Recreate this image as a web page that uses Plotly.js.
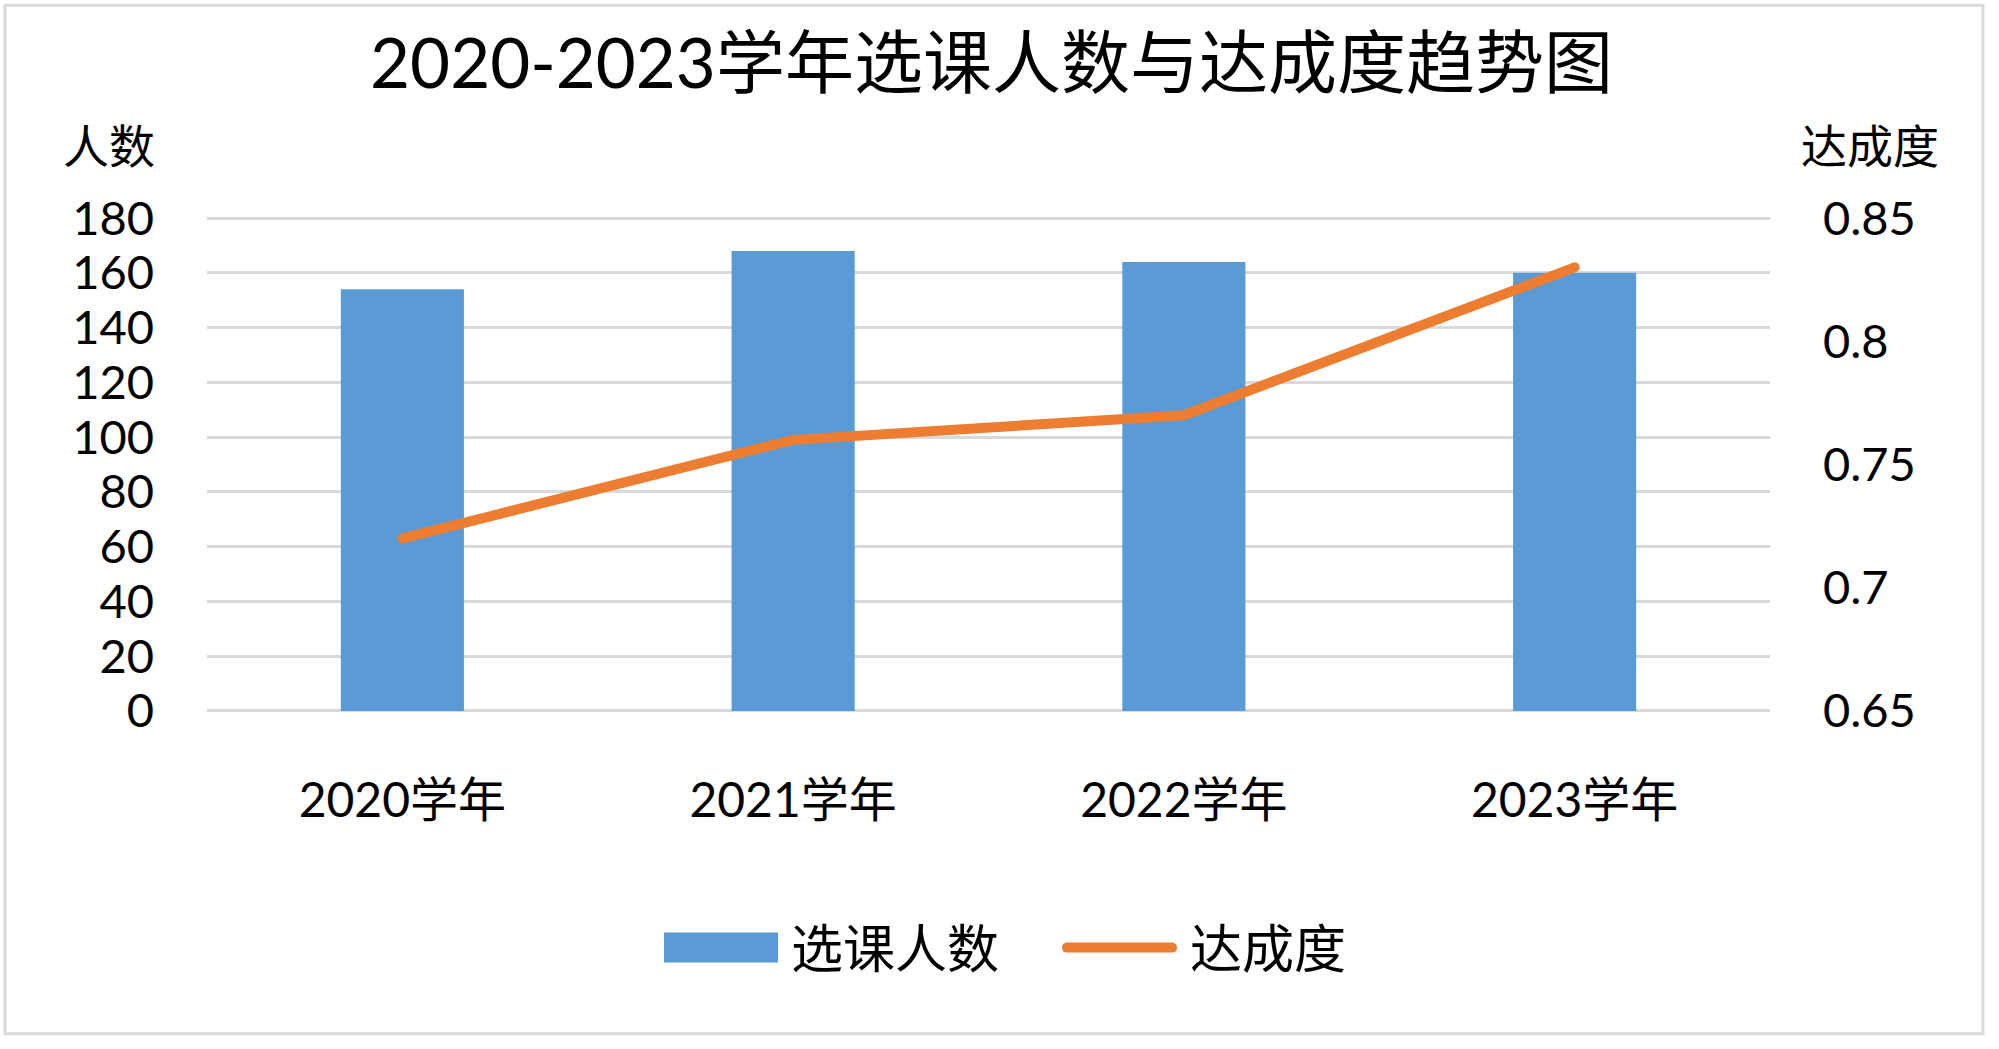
<!DOCTYPE html>
<html>
<head>
<meta charset="utf-8">
<script src="https://cdn.plot.ly/plotly-3.0.1.min.js"></script>
<style>
  html, body { margin: 0; padding: 0; background: #ffffff; }
  #chart { width: 1999px; height: 1049px; }
</style>
</head>
<body>
<div id="chart"></div>
<script>
// ---- data ----
const categories = ['2020学年', '2021学年', '2022学年', '2023学年'];
const enrollment = [154, 168, 164, 160];          // 选课人数
const attainment = [0.72, 0.76, 0.77, 0.83];      // 达成度
const leftTickVals = [0, 20, 40, 60, 80, 100, 120, 140, 160, 180];
const rightTickVals = [0.65, 0.7, 0.75, 0.8, 0.85];
const rightTickText = ['0.65', '0.7', '0.75', '0.8', '0.85'];
const seriesNames = ['选课人数', '达成度'];
const chartTitle = '2020-2023学年选课人数与达成度趋势图';
const leftAxisTitle = '人数';
const rightAxisTitle = '达成度';

const FONT = "Lato, 'Noto Sans CJK SC', sans-serif";

// geometry: 180 gridline at y=218px, 0 gridline at y=711px
const W = 1999, H = 1049;
const Y180 = 218, Y0 = 711;
const unitPx = (Y0 - Y180) / 180;
const padL = 1.5, padR = padL * (0.2 / 180);
const L = 207, R = 1770;
const T = Y180 - padL * unitPx, B = Y0 + padL * unitPx;
const pw = R - L, ph = B - T;
const px2x = p => (p - L) / pw;
const py2y = p => (B - p) / ph;

const traces = [
  {
    type: 'bar',
    name: seriesNames[0],
    x: categories,
    y: enrollment,
    marker: { color: '#5B9BD5' },
    yaxis: 'y'
  },
  {
    type: 'scatter',
    mode: 'lines',
    name: seriesNames[1],
    x: categories,
    y: attainment,
    line: { color: '#ED7D31', width: 10 },
    yaxis: 'y2'
  }
];

const layout = {
  width: W,
  height: H,
  margin: { l: L, r: W - R, t: T, b: H - B, pad: 0 },
  paper_bgcolor: '#ffffff',
  plot_bgcolor: '#ffffff',
  font: { family: FONT, color: '#000000' },
  bargap: 0.685,
  showlegend: true,
  title: {
    text: chartTitle,
    font: { family: FONT, size: 69, color: '#000000' },
    x: 0.496, xanchor: 'center', xref: 'container',
    y: 1 - 64 / H, yanchor: 'middle', yref: 'container'
  },
  xaxis: {
    type: 'category',
    showgrid: false,
    showline: false,
    zeroline: false,
    ticks: '',
    tickfont: { family: FONT, size: 48, color: '#000000' },
    ticklabelstandoff: 53
  },
  yaxis: {
    range: [0 - padL, 180 + padL],
    tickvals: leftTickVals,
    showgrid: true,
    gridcolor: '#d9d9d9',
    gridwidth: 3,
    zeroline: false,
    showline: false,
    ticks: '',
    tickfont: { family: FONT, size: 47, color: '#000000' },
    ticklabelstandoff: 52
  },
  yaxis2: {
    range: [0.65 - padR, 0.85 + padR],
    overlaying: 'y',
    side: 'right',
    tickvals: rightTickVals,
    ticktext: rightTickText,
    showgrid: false,
    zeroline: false,
    showline: false,
    ticks: '',
    tickfont: { family: FONT, size: 47, color: '#000000' },
    ticklabelstandoff: 52
  },
  legend: {
    orientation: 'h',
    x: px2x(1050), xanchor: 'center',
    y: py2y(948), yanchor: 'middle',
    font: { family: FONT, size: 52, color: '#000000' },
    itemwidth: 130,
    entrywidth: 254,
    bgcolor: 'rgba(0,0,0,0)'
  },
  annotations: [
    {
      text: leftAxisTitle, showarrow: false,
      xref: 'paper', yref: 'paper',
      x: px2x(109), y: py2y(145), xanchor: 'center', yanchor: 'middle',
      font: { family: FONT, size: 46, color: '#000000' }
    },
    {
      text: rightAxisTitle, showarrow: false,
      xref: 'paper', yref: 'paper',
      x: px2x(1870), y: py2y(145), xanchor: 'center', yanchor: 'middle',
      font: { family: FONT, size: 46, color: '#000000' }
    }
  ],
  shapes: [
    {
      type: 'rect', xref: 'paper', yref: 'paper', layer: 'below',
      x0: px2x(5), x1: px2x(1983), y0: py2y(1034), y1: py2y(5),
      line: { color: '#d9d9d9', width: 3 },
      fillcolor: 'rgba(0,0,0,0)'
    }
  ]
};

function styleLegendAndLine() {
  const gd = document.getElementById('chart');
  gd.querySelectorAll('.legend .legendpoints path').forEach(p => {
    const cls = p.getAttribute('class') || '';
    if (cls.indexOf('legendbar') >= 0 || cls.indexOf('legendundefined') >= 0) {
      p.setAttribute('d', 'M57,15H-57V-15H57Z');
    }
  });
  gd.querySelectorAll('.legend .legendlines path').forEach(p => {
    p.setAttribute('d', 'M17,0h105');
    p.style.strokeLinecap = 'round';
  });
  gd.querySelectorAll('.scatterlayer .js-line').forEach(p => {
    p.style.strokeLinecap = 'round';
  });
}

Plotly.newPlot('chart', traces, layout, { displayModeBar: false, responsive: false })
  .then(styleLegendAndLine);
</script>
</body>
</html>
